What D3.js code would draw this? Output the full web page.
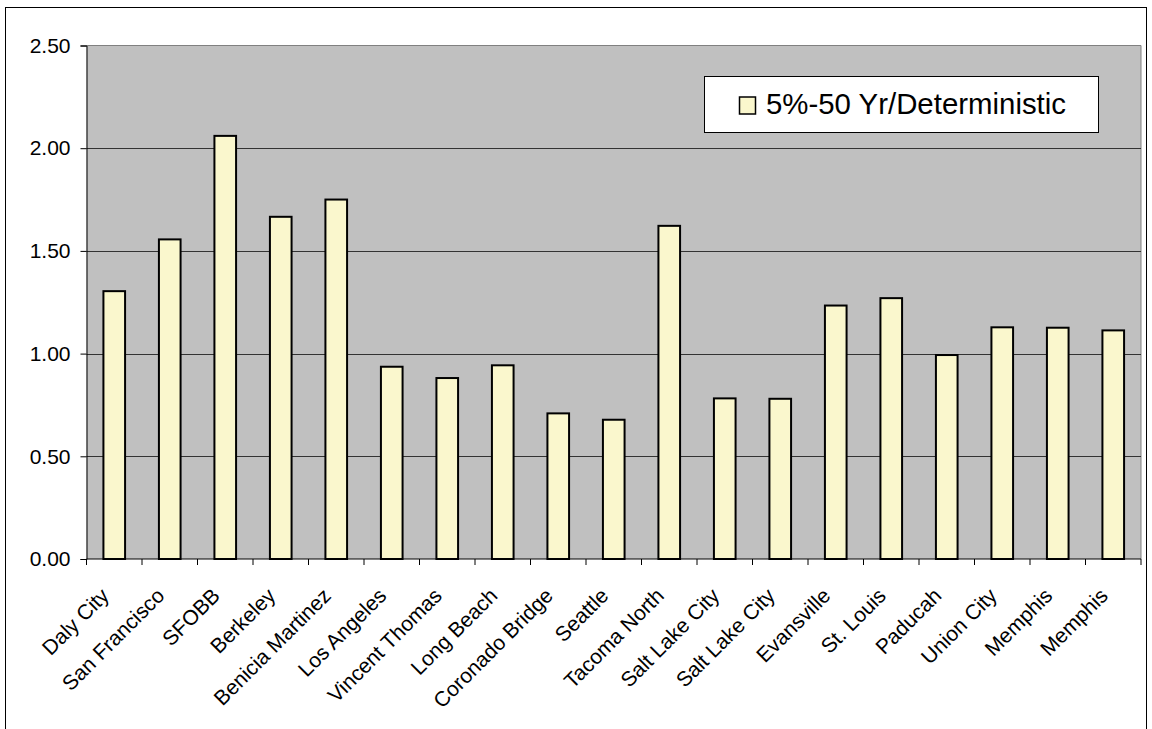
<!DOCTYPE html>
<html>
<head>
<meta charset="utf-8">
<script src="https://cdn.jsdelivr.net/npm/d3@7"></script>
<style>
  html, body { margin: 0; padding: 0; background: #fff; }
  svg { display: block; font-family: "Liberation Sans", Arial, sans-serif; }
</style>
</head>
<body>
<svg id="chart" width="1152" height="729"></svg>
<script>
const categories = ["Daly City", "San Francisco", "SFOBB", "Berkeley", "Benicia Martinez",
  "Los Angeles", "Vincent Thomas", "Long Beach", "Coronado Bridge", "Seattle",
  "Tacoma North", "Salt Lake City", "Salt Lake City", "Evansville", "St. Louis",
  "Paducah", "Union City", "Memphis", "Memphis"];
const values = [1.304, 1.556, 2.060, 1.666, 1.750, 0.936, 0.881, 0.943, 0.709, 0.678,
  1.622, 0.782, 0.780, 1.234, 1.270, 0.993, 1.128, 1.126, 1.113];
const seriesName = "5%-50 Yr/Deterministic";
const yTicks = [0, 0.5, 1.0, 1.5, 2.0, 2.5];

(function () {
const svg = d3.select("#chart");
const pLeft = 86.5, pRight = 1141, pTop = 45.5, pBottom = 559;

// outer chart border
svg.append("rect").attr("x", 5.5).attr("y", 7.5).attr("width", 1141).attr("height", 760)
  .attr("fill", "#fff").attr("stroke", "#000").attr("stroke-width", 1);

const idx = categories.map((d, i) => i);
const x = d3.scaleBand().domain(idx).range([pLeft, pRight]).padding(0);
const xb = d3.scaleBand().domain(idx).range([pLeft, pRight]).paddingInner(0.61).paddingOuter(0.305);
const y = d3.scaleLinear().domain([0, 2.5]).range([pBottom, pTop]);

// plot background
svg.append("rect").attr("x", pLeft).attr("y", pTop).attr("width", pRight - pLeft).attr("height", pBottom - pTop)
  .attr("fill", "#C0C0C0");
// plot top/right border (gray)
svg.append("path").attr("d", `M${pLeft},${pTop}H${pRight}V${pBottom}`).attr("fill", "none")
  .attr("stroke", "#808080").attr("stroke-width", 1);

// gridlines
svg.append("g").selectAll("line").data(yTicks.filter(t => t > 0 && t < 2.5)).join("line")
  .attr("x1", pLeft).attr("x2", pRight)
  .attr("y1", d => Math.round(y(d)) + 0.5).attr("y2", d => Math.round(y(d)) + 0.5)
  .attr("stroke", "#333").attr("stroke-width", 1);

// bars
svg.append("g").selectAll("rect").data(values).join("rect")
  .attr("x", (d, i) => xb(i))
  .attr("y", d => y(d))
  .attr("width", xb.bandwidth())
  .attr("height", d => pBottom - y(d))
  .attr("fill", "#FAF7CD").attr("stroke", "#000").attr("stroke-width", 2);

// y axis
const yAxis = d3.axisLeft(y).tickValues(yTicks).tickFormat(d3.format(".2f")).tickSizeOuter(0).tickSize(6).tickPadding(10);
const gy = svg.append("g").attr("transform", `translate(${pLeft},0)`).call(yAxis);
gy.select(".domain").attr("stroke", "#000");
gy.selectAll(".tick line").attr("stroke", "#000");
gy.selectAll(".tick text").attr("font-size", "21px").attr("fill", "#000")
  .attr("font-family", "'Liberation Sans', Arial, sans-serif");

// x axis (ticks at band boundaries)
const boundaries = d3.range(categories.length + 1).map(i => pLeft + i * x.step());
svg.append("line").attr("x1", pLeft).attr("x2", pRight).attr("y1", pBottom).attr("y2", pBottom)
  .attr("stroke", "#000").attr("stroke-width", 1);
svg.append("g").selectAll("line").data(boundaries).join("line")
  .attr("x1", d => d).attr("x2", d => d).attr("y1", pBottom).attr("y2", pBottom + 6)
  .attr("stroke", "#000").attr("stroke-width", 1);

// x labels rotated
svg.append("g").selectAll("text").data(categories).join("text")
  .attr("transform", (d, i) => `translate(${x(i) + x.bandwidth() / 2 - 4},${pBottom + 38}) rotate(-45)`)
  .attr("text-anchor", "end")
  .attr("font-size", "21px").attr("fill", "#000")
  .text(d => d);

// legend
const lg = svg.append("g");
lg.append("rect").attr("x", 704.5).attr("y", 76.5).attr("width", 394).attr("height", 56)
  .attr("fill", "#fff").attr("stroke", "#000").attr("stroke-width", 1);
lg.append("rect").attr("x", 739.5).attr("y", 97).attr("width", 16).attr("height", 17)
  .attr("fill", "#FAF7CD").attr("stroke", "#000").attr("stroke-width", 1.5);
lg.append("text").attr("x", 766).attr("y", 114).attr("font-size", "29.4px").attr("fill", "#000")
  .text(seriesName);
})();
</script>
</body>
</html>
